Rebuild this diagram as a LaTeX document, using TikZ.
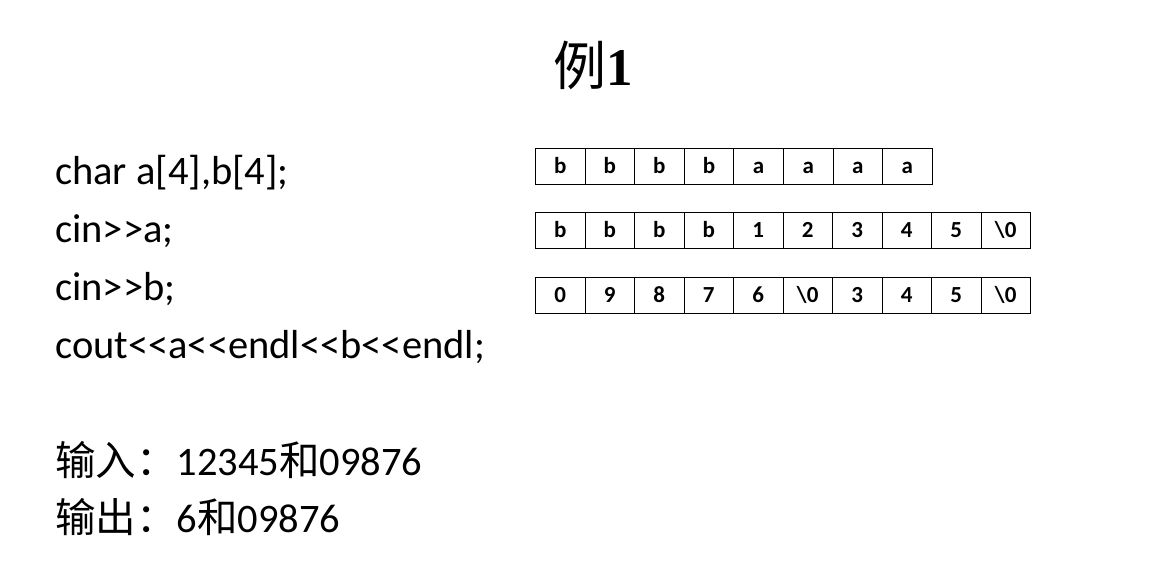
\documentclass[tikz,border=0pt]{standalone}
\usepackage{fontspec}
\setmainfont{Carlito}[Ligatures=TeXOff]
\newfontfamily\cjk{Noto Sans CJK SC}
\newfontfamily\titlefont{Liberation Serif}
\usetikzlibrary{positioning}

\begin{document}
\begin{tikzpicture}[x=1pt, y=-1pt,
        cell/.style={draw, line width=0.8pt, minimum width=49.6pt, minimum height=36pt,
            inner sep=0pt, text height=14pt, text depth=0pt, anchor=north west,
            font=\fontsize{23}{23}\selectfont\bfseries},
        code/.style={anchor=base west, inner sep=0pt, font=\fontsize{40.5}{40.5}\selectfont}]
        % page
        \fill[white] (0,0) rectangle (1164,573);
        \useasboundingbox (0,0) rectangle (1164,573);

        % title
        \node[font=\fontsize{53}{53}\selectfont] (title) at (593,65) {{\cjk 例}{\titlefont\bfseries 1}};

        % code lines
        \node[code] (decl) at (55,184) {char a[4],b[4];};
        \node[code] (cina) at (55,242) {cin>>a;};
        \node[code] (cinb) at (55,300) {cin>>b;};
        \node[code] (cout) at (55,358) {cout<<a<<endl<<b<<endl;};

        % input and output
        \node[code] (input) at (55,475) {{\cjk 输入：}12345{\cjk 和}09876};
        \node[code] (output) at (55,532) {{\cjk 输出：}6{\cjk 和}09876};

        % memory after declaration
        \foreach \v [count=\i from 0] in {b,b,b,b,a,a,a,a}
            \node[cell] (ma\i) at (535+\i*49.6,148) {\v};

        % memory after cin>>a
        \foreach \v [count=\i from 0] in {b,b,b,b,1,2,3,4,5,\textbackslash 0}
            \node[cell] (mb\i) at (535+\i*49.5,212) {\v};

        % memory after cin>>b
        \foreach \v [count=\i from 0] in {0,9,8,7,6,\textbackslash 0,3,4,5,\textbackslash 0}
            \node[cell] (mc\i) at (535+\i*49.5,277) {\v};
    \end{tikzpicture}
\end{document}
